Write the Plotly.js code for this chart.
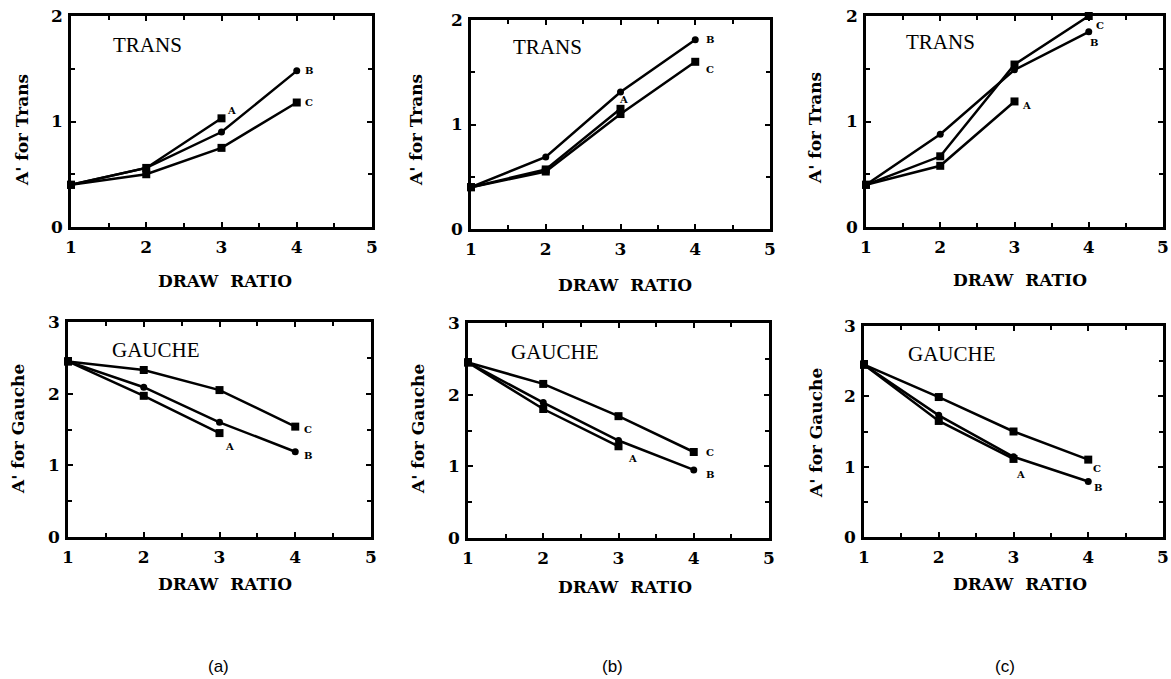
<!DOCTYPE html>
<html>
<head>
<meta charset="utf-8">
<script src="https://cdn.plot.ly/plotly-3.0.1.min.js"></script>
<style>html,body{margin:0;padding:0;background:#fff;}#chart{width:1171px;height:679px;}</style>
</head>
<body>
<div id="chart"></div>
<script>
// ---- data ----
const drawRatio = [1, 2, 3, 4];
const seriesNames = ['A', 'B', 'C'];
const panelLetters = ['(a)', '(b)', '(c)'];

// A' for Trans
const transA_a = [0.40, 0.56, 1.03];
const transB_a = [0.40, 0.56, 0.90, 1.48];
const transC_a = [0.40, 0.50, 0.75, 1.18];
const transA_b = [0.40, 0.57, 1.15];
const transB_b = [0.40, 0.69, 1.31, 1.81];
const transC_b = [0.40, 0.55, 1.10, 1.60];
const transA_c = [0.40, 0.58, 1.19];
const transB_c = [0.40, 0.88, 1.49, 1.85];
const transC_c = [0.40, 0.67, 1.54, 2.00];

// A' for Gauche
const gaucheA_a = [2.45, 1.97, 1.45];
const gaucheB_a = [2.45, 2.09, 1.60, 1.19];
const gaucheC_a = [2.45, 2.33, 2.05, 1.54];
const gaucheA_b = [2.45, 1.80, 1.28];
const gaucheB_b = [2.45, 1.89, 1.36, 0.95];
const gaucheC_b = [2.45, 2.15, 1.70, 1.20];
const gaucheA_c = [2.45, 1.65, 1.11];
const gaucheB_c = [2.45, 1.73, 1.14, 0.79];
const gaucheC_c = [2.45, 1.99, 1.50, 1.10];

const xTickVals = [1, 2, 3, 4, 5];
const transTickVals = [0, 1, 2];
const gaucheTickVals = [0, 1, 2, 3];

// ---- layout helpers ----
const W = 1171, H = 679;
const px = v => v / W;
const py = v => 1 - v / H;

const serif = 'DejaVu Serif, Liberation Serif, serif';
const tickFont = {family: serif, size: 17, color: '#000', weight: 'bold'};

const panels = [
  {kind: 'Trans',  A: transA_a, B: transB_a, C: transC_a, box: [71, 372, 16, 227], yt: [22, 130], xt: [225, 281], lab: [2.02, 1.725],
   shifts: {A: [10, 8], B: [12, 0], C: [12, 0]}},
  {kind: 'Trans',  A: transA_b, B: transB_b, C: transC_b, box: [471, 770, 20, 229], yt: [416, 130], xt: [625, 285], lab: [2.03, 1.74],
   shifts: {A: [3, 9], B: [15, 0], C: [15, -8]}},
  {kind: 'Trans',  A: transA_c, B: transB_c, C: transC_c, box: [866, 1163, 16, 227], yt: [815, 128], xt: [1020, 280], lab: [2.01, 1.75],
   shifts: {A: [12, -4], B: [5, -11], C: [11, -9]}},
  {kind: 'Gauche', A: gaucheA_a, B: gaucheB_a, C: gaucheC_a, box: [68, 371, 322, 537], yt: [18, 429], xt: [225, 584], lab: [2.16, 2.61],
   shifts: {A: [10, -13], B: [13, -4], C: [13, -3]}},
  {kind: 'Gauche', A: gaucheA_b, B: gaucheB_b, C: gaucheC_b, box: [468, 769, 323, 538], yt: [418, 429], xt: [625, 587], lab: [2.16, 2.60],
   shifts: {A: [14, -12], B: [16, -5], C: [16, 0]}},
  {kind: 'Gauche', A: gaucheA_c, B: gaucheB_c, C: gaucheC_c, box: [864, 1163, 326, 537], yt: [816, 433], xt: [1020, 584], lab: [2.18, 2.60],
   shifts: {A: [7, -16], B: [10, -6], C: [9, -9]}}
];

const traces = [];
const annotations = [];
const layout = {
  width: W, height: H,
  margin: {l: 0, r: 0, t: 0, b: 0},
  paper_bgcolor: '#fff', plot_bgcolor: '#fff',
  showlegend: false,
  annotations: annotations
};

panels.forEach((p, i) => {
  const n = i + 1;
  const xa = n === 1 ? 'x' : 'x' + n;
  const ya = n === 1 ? 'y' : 'y' + n;
  const isTrans = p.kind === 'Trans';
  const axBase = {
    showline: true, linewidth: 2.8, linecolor: '#000', mirror: 'ticks',
    ticks: 'inside', ticklen: 5, tickwidth: 2, tickcolor: '#000',
    showgrid: false, zeroline: false, tickfont: tickFont,
    ticklabeloverflow: 'allow', fixedrange: true
  };
  layout['xaxis' + (n === 1 ? '' : n)] = Object.assign({}, axBase, {
    domain: [px(p.box[0]), px(p.box[1])], anchor: ya,
    range: [1, 5], tickvals: xTickVals, ticklabelstandoff: 3,
    minor: {dtick: 0.5, tick0: 1, ticks: 'inside', ticklen: 4, tickwidth: 2, tickcolor: '#000'}
  });
  layout['yaxis' + (n === 1 ? '' : n)] = Object.assign({}, axBase, {
    domain: [py(p.box[3]), py(p.box[2])], anchor: xa,
    range: isTrans ? [0, 2] : [0, 3], tickvals: isTrans ? transTickVals : gaucheTickVals,
    ticklabelstandoff: 2,
    minor: {dtick: 0.5, tick0: 0, ticks: 'inside', ticklen: 4, tickwidth: 2, tickcolor: '#000'}
  });

  seriesNames.forEach(s => {
    const ys = p[s];
    const xs = drawRatio.slice(0, ys.length);
    traces.push({
      type: 'scatter', mode: 'lines+markers', x: xs, y: ys, xaxis: xa, yaxis: ya,
      name: s, cliponaxis: false,
      line: {color: '#000', width: 2.5},
      marker: s === 'B' ? {symbol: 'circle', size: 7, color: '#000'} : {symbol: 'square', size: 8, color: '#000'}
    });
    const sh = p.shifts[s];
    annotations.push({
      xref: xa, yref: ya, x: xs[xs.length - 1], y: ys[ys.length - 1],
      text: s, showarrow: false, xanchor: 'center', yanchor: 'middle',
      xshift: sh[0], yshift: sh[1],
      font: {family: serif, size: 10, color: '#000', weight: 'bold'}
    });
  });

  // panel heading
  annotations.push({
    xref: xa, yref: ya, x: p.lab[0], y: p.lab[1], text: isTrans ? 'TRANS' : 'GAUCHE',
    showarrow: false, xanchor: 'center', yanchor: 'middle',
    font: {family: 'Liberation Serif, Times New Roman, serif', size: 21, color: '#000'}
  });
  // y title
  annotations.push({
    xref: 'paper', yref: 'paper', x: px(p.yt[0]), y: py(p.yt[1]),
    text: isTrans ? "A' for Trans" : "A' for Gauche", textangle: -90,
    showarrow: false, xanchor: 'center', yanchor: 'middle',
    font: {family: serif, size: 17, color: '#000', weight: 'bold'}
  });
  // x title
  annotations.push({
    xref: 'paper', yref: 'paper', x: px(p.xt[0]), y: py(p.xt[1]),
    text: 'DRAW&nbsp;&nbsp;RATIO',
    showarrow: false, xanchor: 'center', yanchor: 'middle',
    font: {family: serif, size: 17, color: '#000', weight: 'bold'}
  });
});

// panel letters
[218, 612, 1005].forEach((cx, k) => {
  annotations.push({
    xref: 'paper', yref: 'paper', x: px(cx), y: py(666), text: panelLetters[k],
    showarrow: false, xanchor: 'center', yanchor: 'middle',
    font: {family: 'Liberation Sans, Arial, sans-serif', size: 17, color: '#000'}
  });
});

Plotly.newPlot('chart', traces, layout, {staticPlot: true, displayModeBar: false});
</script>
</body>
</html>
